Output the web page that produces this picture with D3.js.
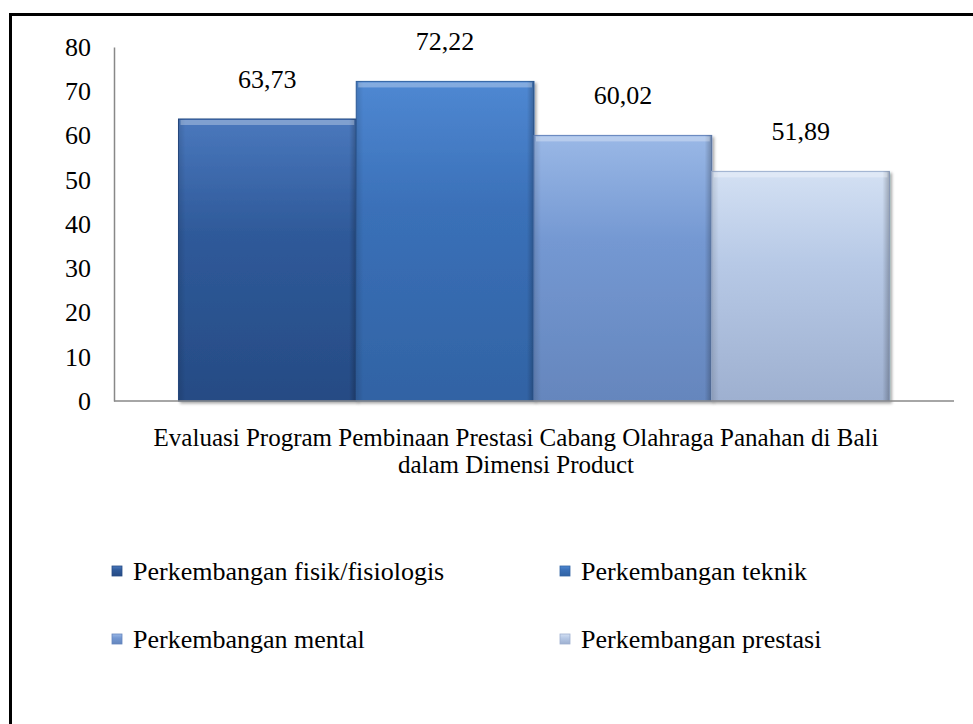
<!DOCTYPE html>
<html>
<head>
<meta charset="utf-8">
<script src="https://cdn.jsdelivr.net/npm/d3@7"></script>
<style>
  body { margin: 0; background: #fff; }
  svg { font-family: "Liberation Serif", "Times New Roman", serif; }
</style>
</head>
<body>
<svg id="chart" width="973" height="724"></svg>
<script>
// data
const categories = ["Perkembangan fisik/fisiologis", "Perkembangan teknik", "Perkembangan mental", "Perkembangan prestasi"];
const values = [63.73, 72.22, 60.02, 51.89];
const valueLabels = ["63,73", "72,22", "60,02", "51,89"];
const yTicks = [0, 10, 20, 30, 40, 50, 60, 70, 80];
const axisTitle = ["Evaluasi Program Pembinaan Prestasi Cabang Olahraga Panahan di Bali", "dalam Dimensi Product"];

// colours: top, middle, bottom of each bar
const colors = [
  ["#4a78bd", "#2f5a9a", "#264b84"],
  ["#4f88d2", "#3a70b8", "#3163a4"],
  ["#9ab8e6", "#7498d2", "#6586bd"],
  ["#d3e0f3", "#b7c9e6", "#9eb0d0"]
];

const svg = d3.select("#chart");
const width = +svg.attr("width"), height = +svg.attr("height");
const fontSize = 26;

// outer frame (right/bottom edges run off the picture)
svg.append("path")
  .attr("d", "M10.5," + height + " V14.5 H" + (width + 2))
  .attr("fill", "none").attr("stroke", "#000").attr("stroke-width", 3);

const plot = { left: 114, right: 954, top: 47, bottom: 401 };

const y = d3.scaleLinear().domain([0, 80]).range([plot.bottom, plot.top]);
const xOuter = d3.scaleBand().domain([0]).range([plot.left, plot.right]).paddingOuter(0.0907).paddingInner(0);
const x = d3.scaleBand().domain(categories).range([xOuter(0), xOuter(0) + xOuter.bandwidth()]).padding(0);

const defs = svg.append("defs");
categories.forEach((c, i) => {
  const g = defs.append("linearGradient").attr("id", "grad" + i)
    .attr("x1", 0).attr("y1", 0).attr("x2", 0).attr("y2", 1);
  g.append("stop").attr("offset", "0%").attr("stop-color", colors[i][0]);
  g.append("stop").attr("offset", "40%").attr("stop-color", colors[i][1]);
  g.append("stop").attr("offset", "100%").attr("stop-color", colors[i][2]);
  const h = defs.append("linearGradient").attr("id", "side" + i)
    .attr("x1", 0).attr("y1", 0).attr("x2", 1).attr("y2", 0);
  h.append("stop").attr("offset", "0%").attr("stop-color", "#000").attr("stop-opacity", 0.12);
  h.append("stop").attr("offset", "4%").attr("stop-color", "#000").attr("stop-opacity", 0);
  h.append("stop").attr("offset", "96%").attr("stop-color", "#000").attr("stop-opacity", 0);
  h.append("stop").attr("offset", "100%").attr("stop-color", "#000").attr("stop-opacity", 0.25);
});
const shadow = defs.append("filter").attr("id", "shadow").attr("x", "-5%").attr("y", "-5%").attr("width", "115%").attr("height", "115%");
shadow.append("feDropShadow").attr("dx", 2).attr("dy", 2).attr("stdDeviation", 1.5).attr("flood-color", "#000").attr("flood-opacity", 0.35);

// y axis
const yAxis = svg.append("g").attr("transform", "translate(" + plot.left + ",0)")
  .call(d3.axisLeft(y).tickValues(yTicks).tickSize(0).tickPadding(23));
yAxis.select(".domain").attr("stroke", "#888").attr("stroke-width", 1.5);
yAxis.selectAll("text").attr("font-size", fontSize).attr("fill", "#000")
  .attr("font-family", "Liberation Serif, Times New Roman, serif");

// bars
const bars = svg.append("g").selectAll("g").data(values).enter().append("g");
bars.append("rect")
  .attr("x", (d, i) => x(categories[i]))
  .attr("y", d => y(d))
  .attr("width", x.bandwidth())
  .attr("height", d => y(0) - y(d))
  .attr("fill", (d, i) => "url(#grad" + i + ")")
  .attr("stroke", (d, i) => colors[i][2])
  .attr("stroke-width", 1)
  .attr("filter", "url(#shadow)");
bars.append("rect")
  .attr("x", (d, i) => x(categories[i]))
  .attr("y", d => y(d))
  .attr("width", x.bandwidth())
  .attr("height", d => y(0) - y(d))
  .attr("fill", (d, i) => "url(#side" + i + ")");
// top bevel highlight
bars.append("rect")
  .attr("x", (d, i) => x(categories[i]) + 2)
  .attr("y", d => y(d) + 1)
  .attr("width", x.bandwidth() - 4)
  .attr("height", 5)
  .attr("fill", "#fff").attr("opacity", 0.3);

// value labels
bars.append("text")
  .attr("x", (d, i) => x(categories[i]) + x.bandwidth() / 2)
  .attr("y", d => y(d) - 31)
  .attr("text-anchor", "middle")
  .attr("font-size", fontSize)
  .text((d, i) => valueLabels[i]);

// x axis baseline
svg.append("line")
  .attr("x1", plot.left).attr("x2", plot.right)
  .attr("y1", y(0)).attr("y2", y(0))
  .attr("stroke", "#888").attr("stroke-width", 1.5);

// category axis title
svg.append("g").selectAll("text").data(axisTitle).enter().append("text")
  .attr("x", 516)
  .attr("y", (d, i) => 446 + i * 27)
  .attr("text-anchor", "middle")
  .attr("font-size", 25)
  .text(d => d);

// legend
const legendPos = [[112, 571], [560, 571], [112, 639], [560, 639]];
const legend = svg.append("g").selectAll("g").data(categories).enter().append("g")
  .attr("transform", (d, i) => "translate(" + legendPos[i][0] + "," + legendPos[i][1] + ")");
legend.append("rect")
  .attr("x", 0).attr("y", -5).attr("width", 10).attr("height", 10)
  .attr("fill", (d, i) => "url(#grad" + i + ")")
  .attr("stroke", (d, i) => colors[i][2]).attr("stroke-width", 0.8);
legend.append("text")
  .attr("x", 21).attr("y", 9)
  .attr("font-size", fontSize)
  .text(d => d);
</script>
</body>
</html>
